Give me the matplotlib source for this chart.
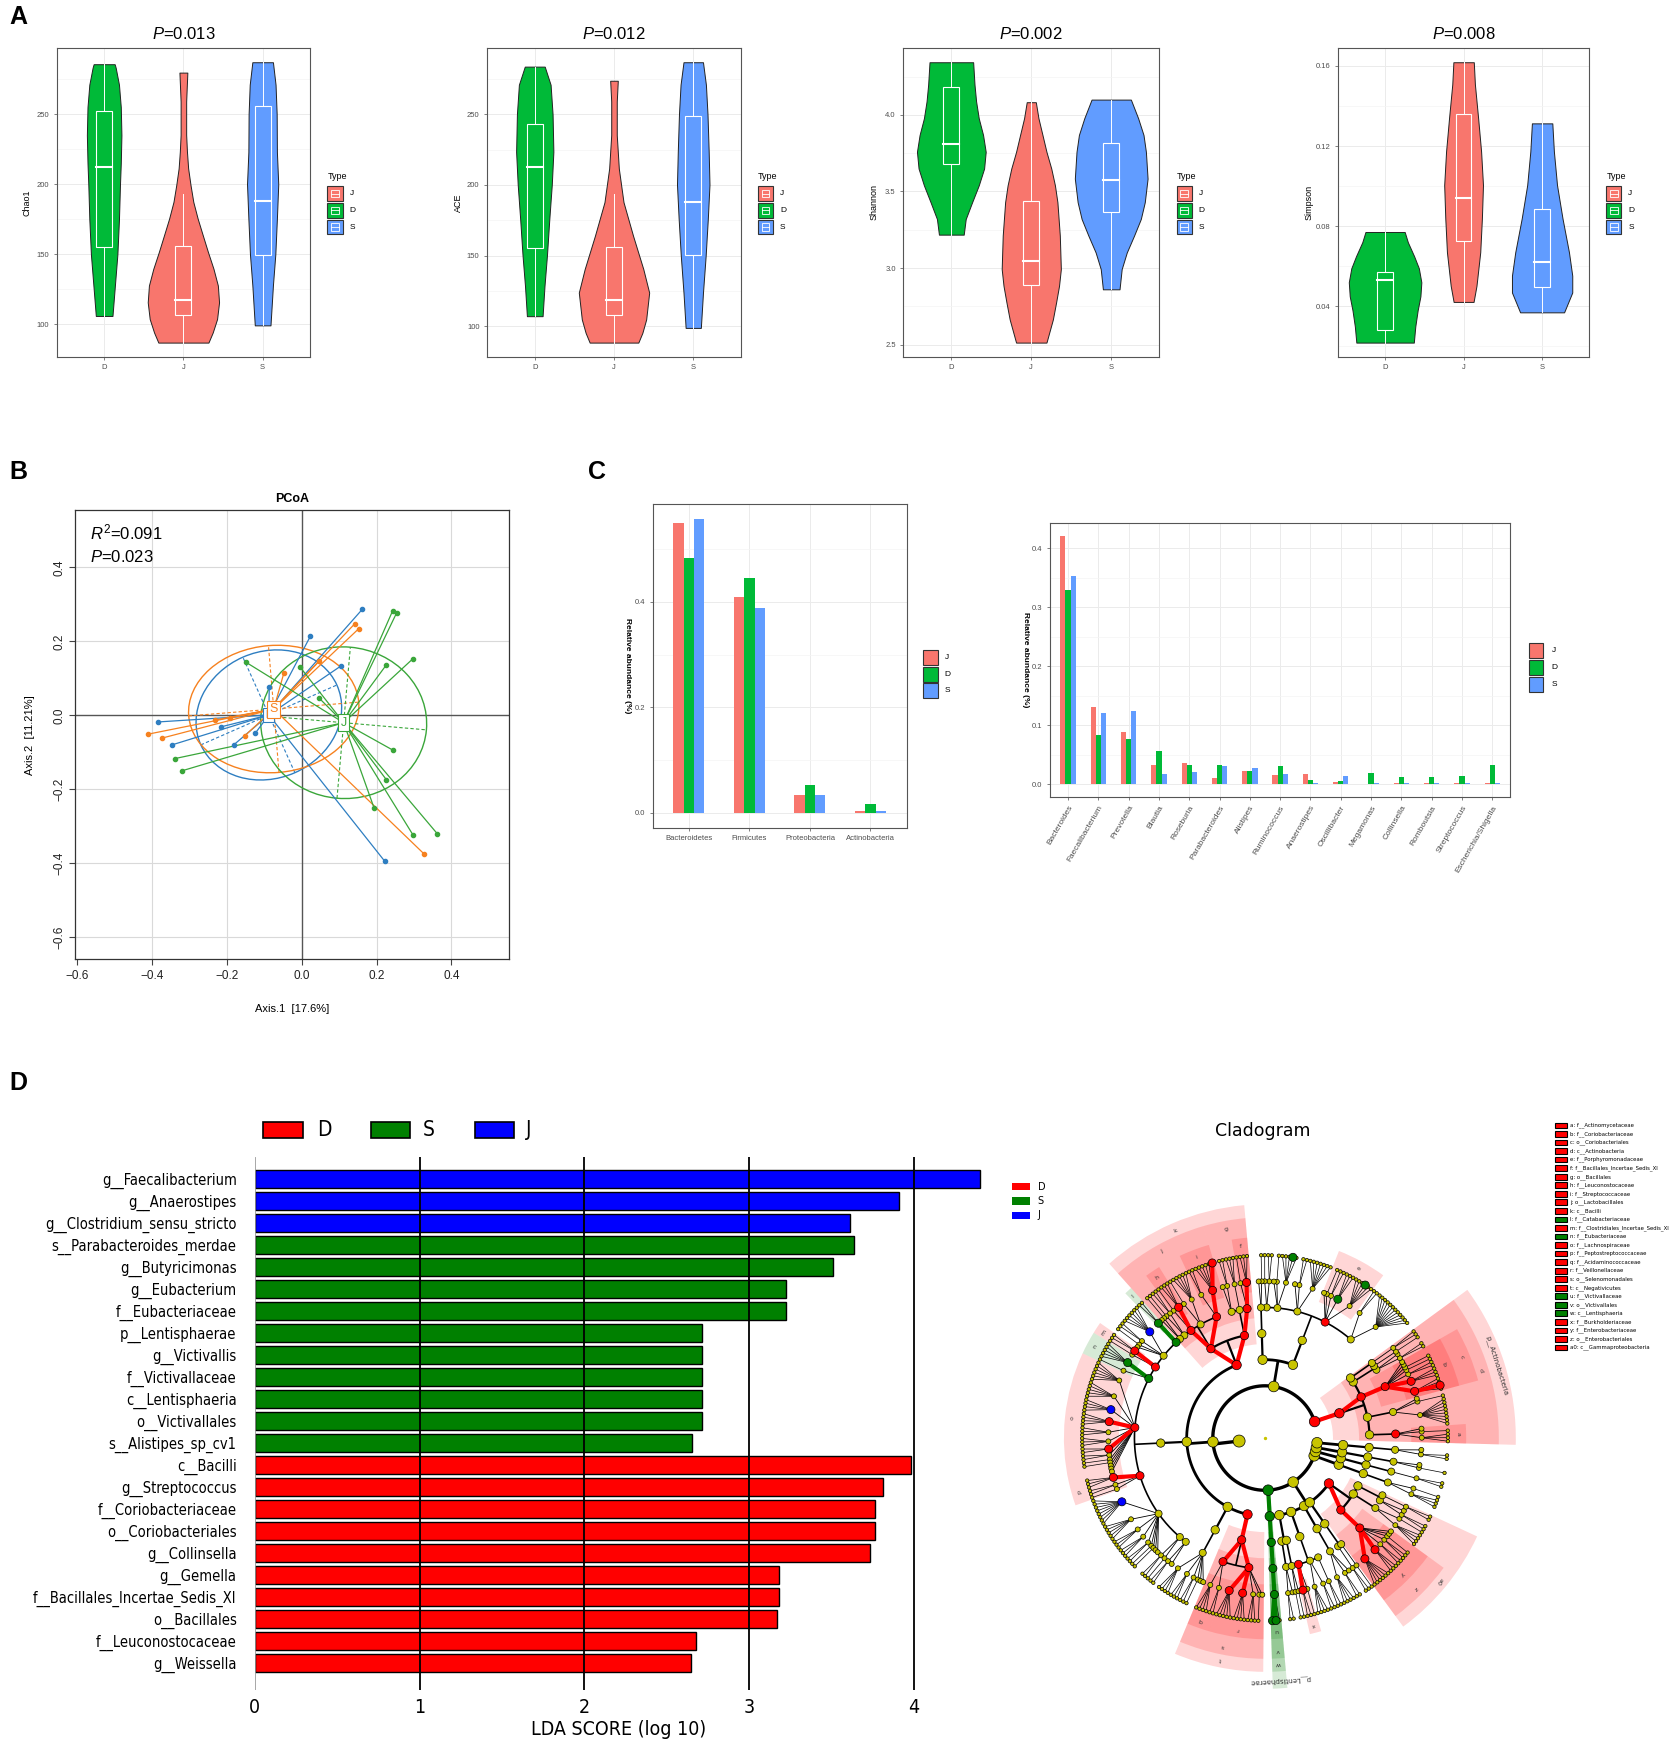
import numpy as np
import matplotlib
matplotlib.use('Agg')
import matplotlib.pyplot as plt
from matplotlib.patches import Rectangle, Ellipse, Wedge

plt.rcParams['font.family'] = ['Liberation Sans', 'DejaVu Sans']
plt.rcParams['mathtext.fontset'] = 'custom'
plt.rcParams['mathtext.rm'] = 'Liberation Sans'
plt.rcParams['mathtext.it'] = 'Liberation Sans:italic'

# ---------------- data ----------------
groups = ['D', 'J', 'S']

# violin outlines: (value, half width)
chao1_D = [(285.6, 0.133), (283, 0.146), (271, 0.187), (255, 0.21), (235, 0.218), (215, 0.21),
           (200, 0.2), (175, 0.187), (150, 0.167), (128, 0.136), (106, 0.105)]
chao1_J = [(279.6, 0.05), (259, 0.035), (235.2, 0.035), (223.2, 0.045), (211.3, 0.06), (199.4, 0.09),
           (187.4, 0.125), (175.5, 0.18), (163.5, 0.245), (151.6, 0.31), (139.6, 0.38), (127.7, 0.435),
           (115.7, 0.45), (103.8, 0.425), (94.2, 0.37), (87, 0.316)]
chao1_S = [(287, 0.13), (271, 0.163), (250, 0.177), (223, 0.18), (200, 0.197), (175.5, 0.18),
           (150, 0.16), (128, 0.13), (99.3, 0.099)]
ace_D = [(283.7, 0.126), (270.9, 0.2), (250, 0.225), (223.4, 0.235), (200.2, 0.215), (176, 0.184),
         (150.1, 0.154), (128.5, 0.123), (107.1, 0.099)]
ace_J = [(273.7, 0.048), (259, 0.035), (235.3, 0.035), (211.6, 0.061), (187.8, 0.12), (164.1, 0.24),
         (140.4, 0.37), (123.8, 0.444), (104.8, 0.406), (95.3, 0.358), (88.4, 0.307)]
ace_S = [(286.8, 0.123), (270.9, 0.16), (250, 0.18), (223.4, 0.195), (200.2, 0.205), (176, 0.184),
         (150, 0.157), (123.8, 0.123), (98.8, 0.096)]
shannon_D = [(4.344, 0.273), (4.197, 0.29), (4.088, 0.31), (3.978, 0.343), (3.869, 0.397), (3.759, 0.43),
             (3.65, 0.41), (3.54, 0.343), (3.43, 0.26), (3.32, 0.18), (3.218, 0.155)]
shannon_J = [(4.083, 0.057), (3.978, 0.09), (3.869, 0.14), (3.759, 0.19), (3.65, 0.25), (3.54, 0.296),
             (3.43, 0.327), (3.212, 0.357), (2.993, 0.37), (2.883, 0.347), (2.774, 0.31), (2.664, 0.27),
             (2.513, 0.19)]
shannon_S = [(4.1, 0.246), (3.978, 0.337), (3.869, 0.404), (3.759, 0.434), (3.584, 0.455), (3.43, 0.42),
             (3.32, 0.37), (3.212, 0.286), (3.102, 0.195), (2.993, 0.131), (2.861, 0.104)]
simpson_D = [(0.0771, 0.25), (0.072, 0.29), (0.065, 0.37), (0.059, 0.43), (0.052, 0.462), (0.045, 0.45),
             (0.038, 0.415), (0.030, 0.385), (0.0219, 0.366)]
simpson_J = [(0.1618, 0.13), (0.1508, 0.144), (0.134, 0.185), (0.1173, 0.223), (0.1005, 0.247),
             (0.0838, 0.233), (0.067, 0.212), (0.0502, 0.164), (0.0422, 0.127)]
simpson_S = [(0.1313, 0.13), (0.1173, 0.15), (0.1005, 0.19), (0.0838, 0.26), (0.067, 0.342),
             (0.0553, 0.384), (0.0469, 0.384), (0.037, 0.28)]

# box stats: (lower whisker, q1, median, q3, upper whisker)
chao1_box = [(106, 155, 212, 252.4, 285.6), (87, 107, 117.7, 156, 193), (99.3, 149.6, 188, 256, 287)]
ace_box = [(107.1, 155.3, 213, 243.4, 283.7), (88.4, 107.6, 118.3, 155.8, 193.5), (98.8, 150.3, 187.8, 248.8, 286.8)]
shannon_box = [(3.218, 3.682, 3.807, 4.182, 4.344), (2.513, 2.89, 3.048, 3.435, 4.083), (2.861, 3.363, 3.575, 3.818, 4.1)]
simpson_box = [(0.0219, 0.028, 0.0533, 0.0573, 0.0771), (0.0422, 0.0725, 0.0941, 0.136, 0.1618),
               (0.037, 0.0497, 0.0623, 0.0884, 0.1313)]

alpha_titles = ['0.013', '0.012', '0.002', '0.008']
alpha_names = ['Chao1', 'ACE', 'Shannon', 'Simpson']
alpha_ticks = [[100, 150, 200, 250], [100, 150, 200, 250], [2.5, 3.0, 3.5, 4.0], [0.04, 0.08, 0.12, 0.16]]
alpha_fmt = ['{:.0f}', '{:.0f}', '{:.1f}', '{:.2f}']

# PCoA points
pc_D = [(0.162, 0.287), (0.023, 0.214), (0.104, 0.133), (-0.087, 0.077), (-0.385, -0.018), (-0.215, -0.031),
        (-0.347, -0.080), (-0.124, -0.048), (-0.182, -0.080), (0.222, -0.395)]
pc_S = [(0.142, 0.248), (0.152, 0.234), (-0.048, 0.114), (0.047, 0.148), (-0.233, -0.013), (-0.193, -0.007),
        (-0.411, -0.051), (-0.375, -0.062), (-0.153, -0.056), (0.328, -0.376)]
pc_J = [(0.243, 0.283), (0.254, 0.278), (0.296, 0.152), (0.225, 0.135), (-0.005, 0.131), (-0.150, 0.144),
        (0.047, 0.046), (0.245, -0.095), (0.226, -0.174), (0.193, -0.250), (0.297, -0.323), (0.362, -0.320),
        (-0.339, -0.117), (-0.320, -0.150)]
pc_centroid = {'D': (-0.088, 0.001), 'S': (-0.075, 0.017), 'J': (0.112, -0.02)}
# ellipse semi axes and tilt (degrees)
pc_ellipse = {'D': (0.199, 0.171, 24.0), 'S': (0.228, 0.172, 4.7), 'J': (0.222, 0.205, -5.0)}

# phylum level abundance
phyla = ['Bacteroidetes', 'Firmicutes', 'Proteobacteria', 'Actinobacteria']
phyla_J = [0.550, 0.410, 0.0335, 0.003]
phyla_D = [0.4835, 0.445, 0.053, 0.0165]
phyla_S = [0.557, 0.389, 0.035, 0.003]

genera = ['Bacteroides', 'Faecalibacterium', 'Prevotella', 'Blautia', 'Roseburia', 'Parabacteroides',
          'Alistipes', 'Ruminococcus', 'Anaerostipes', 'Oscillibacter', 'Megamonas', 'Collinsella',
          'Romboutsia', 'Streptococcus', 'Escherichia/Shigella']
genera_J = [0.421, 0.131, 0.088, 0.032, 0.0365, 0.011, 0.022, 0.015, 0.017, 0.004, 0.0005, 0.002, 0.002, 0.002, 0.002]
genera_D = [0.329, 0.083, 0.076, 0.056, 0.032, 0.033, 0.022, 0.031, 0.0075, 0.0045, 0.019, 0.0125, 0.0125, 0.014, 0.032]
genera_S = [0.353, 0.121, 0.124, 0.018, 0.020, 0.031, 0.027, 0.017, 0.002, 0.013, 0.002, 0.002, 0.002, 0.002, 0.002]

# LEfSe LDA scores
lda_taxa = ['g__Faecalibacterium', 'g__Anaerostipes', 'g__Clostridium_sensu_stricto', 's__Parabacteroides_merdae',
            'g__Butyricimonas', 'g__Eubacterium', 'f__Eubacteriaceae', 'p__Lentisphaerae', 'g__Victivallis',
            'f__Victivallaceae', 'c__Lentisphaeria', 'o__Victivallales', 's__Alistipes_sp_cv1', 'c__Bacilli',
            'g__Streptococcus', 'f__Coriobacteriaceae', 'o__Coriobacteriales', 'g__Collinsella', 'g__Gemella',
            'f__Bacillales_Incertae_Sedis_XI', 'o__Bacillales', 'f__Leuconostocaceae', 'g__Weissella']
lda_group = ['J'] * 3 + ['S'] * 10 + ['D'] * 10
lda_score = [4.40, 3.906, 3.609, 3.636, 3.511, 3.225, 3.225, 2.716, 2.716, 2.716, 2.716, 2.716, 2.65,
             3.984, 3.812, 3.761, 3.761, 3.73, 3.18, 3.18, 3.166, 2.677, 2.646]

# cladogram tree: phylum -> class -> order -> family -> genera (species count per genus)
clado_tree = [
    [[[[3, 1, 0]], [[8, 1, 0]], [[4, 3, 2, 1, 1, 0, 0]], [[2, 0], [1]], [[2]]]],            # Actinobacteria
    [[[[12, 2], [6, 3, 2, 1, 0], [7, 2, 0], [5, 1, 0], [2, 1]]], [[[1, 0]]]],              # Bacteroidetes
    [[[[3, 1], [3], [2, 0]], [[6, 2], [5, 1], [3, 1], [2, 1], [1, 0]]],                     # Firmicutes
     [[[2], [6, 2, 1, 0], [2, 1], [5, 1], [6, 5, 4, 4, 3, 3, 2, 2, 1, 1, 0, 0, 0], [3, 2, 1],
       [8, 5, 3, 3, 2, 1, 1, 0, 0], [2, 1], [2, 0]]],
     [[[4, 3, 2, 1, 0, 0]]],
     [[[4, 2], [5, 4, 3, 1, 0]]]],
    [[[[3]]]],                                                                              # Lentisphaerae
    [[[[2, 0]], [[1, 1]]], [[[2, 1], [4, 2], [2]]], [[[4, 2, 0]]], [[[2], [1]]],            # Proteobacteria
     [[[6, 3, 2, 2, 1, 0, 0]], [[4, 1]], [[2, 0], [2]]]],
    [[[[3, 1]]]], [[[[2]]]], [[[[1, 0]]]], [[[[2, 0]]]],
]
# shaded biomarker clades: path in tree, enriched group, letter
clade_paths = [(0, 0, 0, 0), (0, 0, 2, 0), (0, 0, 2), (0, 0), (1, 0, 0, 1), (2, 0, 0, 0), (2, 0, 0), (2, 0, 1, 2),
               (2, 0, 1, 0), (2, 0, 1), (2, 0), (2, 1, 0, 0), (2, 1, 0, 2), (2, 1, 0, 3), (2, 1, 0, 4), (2, 1, 0, 5),
               (2, 3, 0, 0), (2, 3, 0, 1), (2, 3, 0), (2, 3), (3, 0, 0, 0), (3, 0, 0), (3, 0), (4, 1, 0, 0),
               (4, 4, 0, 0), (4, 4, 0), (4, 4), (0,), (3,)]
clade_group = ['D'] * 11 + ['S', 'D', 'S', 'D', 'D', 'D', 'D', 'D', 'D', 'S', 'S', 'S', 'D', 'D', 'D', 'D', 'D', 'S']
clade_label = ['a', 'b', 'c', 'd', 'e', 'f', 'g', 'h', 'i', 'j', 'k', 'l', 'm', 'n', 'o', 'p', 'q', 'r', 's', 't',
               'u', 'v', 'w', 'x', 'y', 'z', 'a0', 'p__Actinobacteria', 'p__Lentisphaerae']
clade_name = ['f__Actinomycetaceae', 'f__Coriobacteriaceae', 'o__Coriobacteriales', 'c__Actinobacteria',
              'f__Porphyromonadaceae', 'f__Bacillales_Incertae_Sedis_XI', 'o__Bacillales', 'f__Leuconostocaceae',
              'f__Streptococcaceae', 'o__Lactobacillales', 'c__Bacilli', 'f__Catabacteriaceae',
              'f__Clostridiales_Incertae_Sedis_XI', 'f__Eubacteriaceae', 'f__Lachnospiraceae',
              'f__Peptostreptococcaceae', 'f__Acidaminococcaceae', 'f__Veillonellaceae', 'o__Selenomonadales',
              'c__Negativicutes', 'f__Victivallaceae', 'o__Victivallales', 'c__Lentisphaeria', 'f__Burkholderiaceae',
              'f__Enterobacteriaceae', 'o__Enterobacteriales', 'c__Gammaproteobacteria']
# genus / species biomarkers shown as coloured nodes only
marker_paths = [(0, 0, 2, 0, 0), (2, 0, 1, 0, 0), (2, 0, 0, 0, 0), (2, 0, 1, 2, 0), (2, 1, 0, 4, 3), (2, 3, 0, 1, 0),
                (4, 4, 0, 0, 0), (2, 1, 0, 5, 0), (4, 1, 0, 0, 0), (2, 0, 1, 0, 0, 0), (0, 0, 2, 0, 0, 1),
                (0, 0, 2, 0, 1), (2, 1, 0, 2, 0), (2, 3, 0, 1, 1), (4, 4, 0, 0, 1), (2, 1, 0, 4, 6),
                (1, 0, 0, 1, 1), (2, 1, 0, 3, 0), (3, 0, 0, 0, 0), (3, 0, 0, 0, 0, 0), (3, 0, 0, 0, 0, 1),
                (1, 0, 0, 1, 0, 2), (1, 0, 0, 3, 0, 1), (2, 1, 0, 0, 0),
                (2, 1, 0, 6, 0), (2, 1, 0, 4, 2), (2, 1, 0, 1, 0)]
marker_group = ['D'] * 16 + ['S'] * 8 + ['J'] * 3

# ---------------- styling ----------------
GG = {'D': '#00BA38', 'J': '#F8766D', 'S': '#619CFF'}
PC = {'D': '#2e7ec1', 'S': '#f6811f', 'J': '#3aa63a'}
LF = {'D': '#ff0000', 'S': '#008000', 'J': '#0000ff'}
W, H = 1512.0, 1568.0


def rect(x0, y0, x1, y1):
    return [x0 / W, 1 - y1 / H, (x1 - x0) / W, (y1 - y0) / H]


fig = plt.figure(figsize=(16.78, 17.42), dpi=100)

for lab, (x, y) in zip('ABCD', [(8, 15), (8, 425), (530, 425), (8, 975)]):
    fig.text(x / W, 1 - y / H, lab, fontsize=18, fontweight='bold', va='center', ha='left')


def gg_axes(ax):
    ax.set_facecolor('white')
    for s in ax.spines.values():
        s.set_color('#555555')
        s.set_linewidth(0.8)
    ax.tick_params(labelsize=5.5, colors='#4D4D4D', length=2, width=0.5)
    ax.set_axisbelow(True)


def key_glyph(ax, x, y, color, w=0.06, h=0.048, boxed=True):
    ax.add_patch(Rectangle((x, y - h / 2), w, h, transform=ax.transAxes, fc=color, ec='#333333',
                           lw=0.8, clip_on=False))
    if boxed:
        ax.add_patch(Rectangle((x + w * 0.25, y - h * 0.25), w * 0.5, h * 0.5, transform=ax.transAxes,
                               fc='none', ec='white', lw=0.6, clip_on=False))
        ax.plot([x + w * 0.25, x + w * 0.75], [y, y], transform=ax.transAxes, color='white', lw=0.6,
                clip_on=False)


# ---------------- A: violins ----------------
alpha_boxes = [rect(51, 43.4, 279.5, 321), rect(439, 43.4, 667.5, 321), rect(814, 43.4, 1044.5, 321),
               rect(1205.6, 43.4, 1432, 321)]
alpha_profiles = [[chao1_D, chao1_J, chao1_S], [ace_D, ace_J, ace_S],
                  [shannon_D, shannon_J, shannon_S], [simpson_D, simpson_J, simpson_S]]
alpha_stats = [chao1_box, ace_box, shannon_box, simpson_box]

for box, ptxt, name, profs, stats, ticks, fmt in zip(alpha_boxes, alpha_titles, alpha_names, alpha_profiles,
                                                      alpha_stats, alpha_ticks, alpha_fmt):
    ax = fig.add_axes(box)
    gg_axes(ax)
    vals = [v for prof in profs for v, w in prof]
    lo, hi = min(vals), max(vals)
    pad = 0.05 * (hi - lo)
    ax.set_xlim(0.4, 3.6)
    ax.set_ylim(lo - pad, hi + pad)
    step = ticks[1] - ticks[0]
    minors = [t for t in np.arange(ticks[0] - step / 2, ticks[-1] + step, step) if lo - pad < t < hi + pad]
    ax.set_yticks(ticks)
    ax.set_yticklabels([fmt.format(t) for t in ticks])
    ax.set_yticks(minors, minor=True)
    ax.tick_params(which='minor', length=0)
    ax.set_xticks([1, 2, 3])
    ax.set_xticklabels(groups)
    ax.grid(which='major', color='#EBEBEB', lw=0.7)
    ax.grid(which='minor', axis='y', color='#F4F4F4', lw=0.5)
    for i, (g, prof, st) in enumerate(zip(groups, profs, stats)):
        xc = i + 1
        ys = np.array([p[0] for p in prof])
        ws = np.array([p[1] for p in prof])
        ax.fill_betweenx(ys, xc - ws, xc + ws, facecolor=GG[g], edgecolor='#222222', lw=0.7, zorder=2)
        wl, q1, med, q3, wh = st
        ax.add_patch(Rectangle((xc - 0.1, q1), 0.2, q3 - q1, fc='none', ec='white', lw=0.8, zorder=3))
        ax.plot([xc - 0.1, xc + 0.1], [med, med], color='white', lw=1.5, zorder=3)
        ax.plot([xc, xc], [q3, wh], color='white', lw=0.7, zorder=3)
        ax.plot([xc, xc], [wl, q1], color='white', lw=0.7, zorder=3)
    ax.text(0.5, 1.045, r'$P$=' + ptxt, transform=ax.transAxes, ha='center', va='center', fontsize=12)
    ax.text(-0.115, 0.5, name, transform=ax.transAxes, rotation=90, ha='center', va='center', fontsize=6.5)
    ax.text(1.068, 0.584, 'Type', transform=ax.transAxes, ha='left', va='center', fontsize=6.5)
    for g, yk in zip(['J', 'D', 'S'], [0.528, 0.474, 0.42]):
        key_glyph(ax, 1.068, yk, GG[g])
        ax.text(1.155, yk, g, transform=ax.transAxes, ha='left', va='center', fontsize=6)

# ---------------- B: PCoA ----------------
axb = fig.add_axes(rect(68, 459.5, 459, 863.5))
axb.set_xlim(-0.605, 0.555)
axb.set_ylim(-0.66, 0.554)
for v in [-0.4, -0.2, 0.2, 0.4]:
    axb.axvline(v, color='#d9d9d9', lw=0.8, zorder=0)
for v in [-0.6, -0.4, -0.2, 0.2, 0.4]:
    axb.axhline(v, color='#d9d9d9', lw=0.8, zorder=0)
axb.axhline(0, color='#555555', lw=1.0, zorder=1)
axb.axvline(0, color='#555555', lw=1.0, zorder=1)
pc_pts = {'D': pc_D, 'S': pc_S, 'J': pc_J}
for g in ['D', 'S', 'J']:
    cx, cy = pc_centroid[g]
    a, b, tilt = pc_ellipse[g]
    col = PC[g]
    axb.add_patch(Ellipse((cx, cy), 2 * a, 2 * b, angle=tilt, fill=False, ec=col, lw=1.0, zorder=2))
    for half, phi in [(a, tilt), (b, tilt + 90)]:
        dx, dy = half * np.cos(np.deg2rad(phi)), half * np.sin(np.deg2rad(phi))
        axb.plot([cx - dx, cx + dx], [cy - dy, cy + dy], color=col, lw=0.8, ls=(0, (3, 2)), zorder=2)
    for px, py in pc_pts[g]:
        axb.plot([cx, px], [cy, py], color=col, lw=0.9, zorder=3)
    axb.scatter([p[0] for p in pc_pts[g]], [p[1] for p in pc_pts[g]], s=9, color=col, zorder=4)
for g, fs in [('D', 7), ('S', 9), ('J', 9)]:
    cx, cy = pc_centroid[g]
    axb.text(cx, cy, g, color=PC[g], ha='center', va='center', fontsize=fs, zorder=6,
             bbox=dict(boxstyle='square,pad=0.2', fc='white', ec=PC[g], lw=0.8))
axb.set_xticks([-0.6, -0.4, -0.2, 0.0, 0.2, 0.4])
axb.set_yticks([-0.6, -0.4, -0.2, 0.0, 0.2, 0.4])
axb.set_xticklabels(['\u22120.6', '\u22120.4', '\u22120.2', '0.0', '0.2', '0.4'])
axb.set_yticklabels(['\u22120.6', '\u22120.4', '\u22120.2', '0.0', '0.2', '0.4'], rotation=90, va='center')
axb.tick_params(labelsize=8.5, direction='out', length=4, color='#444444', labelcolor='#222222')
for s in axb.spines.values():
    s.set_color('#333333')
    s.set_linewidth(0.9)
axb.set_title('PCoA', fontsize=9, fontweight='bold', pad=6)
axb.text(0.5, -0.11, 'Axis.1  [17.6%]', transform=axb.transAxes, ha='center', va='center', fontsize=8)
axb.text(-0.105, 0.5, 'Axis.2  [11.21%]', transform=axb.transAxes, rotation=90, ha='center', va='center',
         fontsize=8)
axb.text(0.033, 0.952, r'$R^2$=0.091', transform=axb.transAxes, ha='left', va='center', fontsize=12)
axb.text(0.033, 0.897, r'$P$=0.023', transform=axb.transAxes, ha='left', va='center', fontsize=12)


# ---------------- C: relative abundance ----------------
def abundance_panel(box, cats, jv, dv, sv, ticks, rot, key_x, key_ys, txt_x, lab_x):
    ax = fig.add_axes(box)
    gg_axes(ax)
    x = np.arange(len(cats))
    bw = 0.17
    for off, vals, g in [(-bw, jv, 'J'), (0, dv, 'D'), (bw, sv, 'S')]:
        ax.bar(x + off, vals, width=bw, color=GG[g], zorder=2)
    top = max(max(jv), max(dv), max(sv))
    ax.set_ylim(-0.05 * top, top * 1.05)
    ax.set_xlim(-0.6, len(cats) - 0.4)
    ax.set_xticks(x)
    if rot:
        ax.set_xticklabels(cats, rotation=60, ha='right', rotation_mode='anchor', fontsize=6)
    else:
        ax.set_xticklabels(cats)
    ax.set_yticks(ticks)
    ax.set_yticklabels(['{:.1f}'.format(t) for t in ticks])
    step = ticks[1] - ticks[0]
    ax.set_yticks([t + step / 2 for t in ticks if t + step / 2 < top * 1.05], minor=True)
    ax.tick_params(which='minor', length=0)
    ax.grid(which='major', color='#EBEBEB', lw=0.7)
    ax.grid(which='minor', axis='y', color='#F4F4F4', lw=0.5)
    ax.text(lab_x, 0.5, 'Relative abundance (%)', transform=ax.transAxes, rotation=-90, ha='center',
            va='center', fontsize=6, fontweight='bold')
    for g, yk in zip(['J', 'D', 'S'], key_ys):
        key_glyph(ax, key_x, yk, GG[g], w=13 / (box[2] * W), h=13 / (box[3] * H), boxed=False)
        ax.text(txt_x, yk, g, transform=ax.transAxes, ha='left', va='center', fontsize=6)
    return ax


abundance_panel(rect(588, 454, 817, 745), phyla, phyla_J, phyla_D, phyla_S, [0.0, 0.2, 0.4], False,
                1.066, [0.526, 0.474, 0.424], 1.15, -0.1)
abundance_panel(rect(946, 471, 1361, 717), genera, genera_J, genera_D, genera_S, [0.0, 0.1, 0.2, 0.3, 0.4], True,
                1.04, [0.534, 0.472, 0.41], 1.09, -0.052)

# ---------------- D: LDA bars ----------------
axd = fig.add_axes(rect(229.5, 1041, 884.5, 1521))
ypos = np.arange(len(lda_taxa))
axd.barh(ypos, lda_score, height=0.83, color=[LF[g] for g in lda_group], edgecolor='black', lw=1.0, zorder=2)
axd.set_xlim(0, 4.41)
axd.set_ylim(len(lda_taxa) - 1 + 1.21, -1.02)
for v in [1, 2, 3, 4]:
    axd.axvline(v, color='black', lw=1.3, zorder=3)
axd.axvline(0, color='#999999', lw=0.6, zorder=3)
for s in axd.spines.values():
    s.set_visible(False)
axd.set_yticks(ypos)
axd.set_yticklabels(lda_taxa, fontsize=10.5, fontstretch='condensed', family='DejaVu Sans')
axd.set_xticks([0, 1, 2, 3, 4])
axd.set_xticklabels(['0', '1', '2', '3', '4'], fontsize=14, fontstretch='condensed', family='DejaVu Sans')
axd.tick_params(axis='y', length=0, pad=13)
axd.tick_params(axis='x', length=0, pad=6)
axd.set_xlabel('LDA SCORE (log 10)', fontsize=14, fontstretch='condensed', family='DejaVu Sans', labelpad=2)
for g, (x0, x1, xt) in zip(['D', 'S', 'J'], [(237, 273, 286), (334, 369, 381), (428, 463, 474)]):
    fig.add_artist(Rectangle((x0 / W, 1 - 1024 / H), (x1 - x0) / W, 14 / H, transform=fig.transFigure,
                             fc=LF[g], ec='black', lw=1.2))
    fig.text(xt / W, 1 - 1017 / H, g, fontsize=15, va='center', ha='left', family='DejaVu Sans',
             fontstretch='condensed')

# ---------------- D: cladogram ----------------
nodes = {}


def place(item, path, level, pos):
    if isinstance(item, int):
        item = [None] * item
    if item is None or len(item) == 0:
        nodes[path] = {'level': level, 't': pos[0], 'lo': pos[0], 'hi': pos[0], 'kids': []}
        pos[0] += 1
        return
    kids = []
    for i, ch in enumerate(item):
        place(ch, path + (i,), level + 1, pos)
        kids.append(path + (i,))
    first, last = nodes[kids[0]], nodes[kids[-1]]
    nodes[path] = {'level': level, 't': (first['t'] + last['t']) / 2, 'lo': first['lo'], 'hi': last['hi'],
                   'kids': kids}


pos = [0.0]
for i, ph in enumerate(clado_tree):
    place(ph, (i,), 2, pos)
    pos[0] += 2.0
total_units = pos[0]
phy_paths = [(i,) for i in range(len(clado_tree))]
nodes[()] = {'level': 1, 't': (nodes[phy_paths[0]]['t'] + nodes[phy_paths[-1]]['t']) / 2,
             'lo': 0, 'hi': total_units, 'kids': phy_paths}
START = -1.0


def ang(t):
    return START + t * 360.0 / total_units


def xy(r, a):
    return r * np.cos(np.deg2rad(a)), r * np.sin(np.deg2rad(a))


cx_d, cy_d = 1139.9, 1294.4
half = 249.5
axc = fig.add_axes(rect(cx_d - half, cy_d - half, cx_d + half, cy_d + half))
axc.set_xlim(-10.6, 10.6)
axc.set_ylim(-10.6, 10.6)
axc.set_aspect('equal')
axc.axis('off')

node_col = {}
for p, g in zip(clade_paths, clade_group):
    node_col[p] = LF[g]
for p, g in zip(marker_paths, marker_group):
    node_col[p] = LF[g]

outer_r = {2: 9.6, 3: 8.95, 4: 8.45, 5: 7.7}
for p, g, lab in sorted(zip(clade_paths, clade_group, clade_label), key=lambda z: len(z[0])):
    nd = nodes[p]
    L = nd['level']
    a1, a2 = ang(nd['lo'] - 0.5), ang(nd['hi'] + 0.5)
    ro = outer_r[L]
    ri = L + 0.6
    axc.add_patch(Wedge((0, 0), ro, a1, a2, width=ro - ri, fc=LF[g], alpha=0.16, ec='none', zorder=0))
    am = (a1 + a2) / 2
    tx, ty = xy(ro - 0.3, am)
    axc.text(tx, ty, lab, fontsize=4.5 if len(lab) < 3 else 5, rotation=am - 90, ha='center', va='center',
             color='#333333', family='DejaVu Sans', zorder=1)

lw_level = {1: 2.4, 2: 2.0, 3: 1.6, 4: 1.2, 5: 0.6, 6: 0.5}
for p, nd in nodes.items():
    if not nd['kids']:
        continue
    L = nd['level']
    a0 = ang(nd['t'])
    if L <= 4:
        x0, y0 = xy(L, a0)
        x1, y1 = xy(L + 1, a0)
        axc.plot([x0, x1], [y0, y1], color='black', lw=lw_level[L], zorder=2, solid_capstyle='butt')
        aa = np.linspace(ang(nodes[nd['kids'][0]]['t']), ang(nodes[nd['kids'][-1]]['t']), 200)
        axc.plot((L + 1) * np.cos(np.deg2rad(aa)), (L + 1) * np.sin(np.deg2rad(aa)), color='black',
                 lw=lw_level[L], zorder=2)
    else:
        x0, y0 = xy(L, a0)
        for k in nd['kids']:
            x1, y1 = xy(L + 1, ang(nodes[k]['t']))
            axc.plot([x0, x1], [y0, y1], color='black', lw=lw_level[L], zorder=2)

# coloured branches between biomarker nodes
for p, c in node_col.items():
    if len(p) > 0 and p[:-1] in node_col and node_col[p[:-1]] == c:
        pa, ch = nodes[p[:-1]], nodes[p]
        x0, y0 = xy(pa['level'], ang(pa['t']))
        x1, y1 = xy(ch['level'], ang(ch['t']))
        axc.plot([x0, x1], [y0, y1], color=c, lw=3.0, zorder=3, solid_capstyle='butt')

size_level = {1: 75, 2: 58, 3: 46, 4: 36, 5: 26, 6: 13, 7: 6}
xs, ys, ss, cs = [], [], [], []
for p, nd in nodes.items():
    x, y = xy(nd['level'], ang(nd['t']))
    xs.append(x)
    ys.append(y)
    if p in node_col:
        ss.append(max(size_level[nd['level']], 34))
        cs.append(node_col[p])
    else:
        ss.append(size_level[nd['level']])
        cs.append('#c8c400')
order = np.argsort([c != '#c8c400' for c in cs], kind='stable')
axc.scatter(np.array(xs)[order], np.array(ys)[order], s=np.array(ss)[order], c=np.array(cs)[order],
            edgecolors='black', linewidths=0.5, zorder=4)
axc.scatter([0], [0], s=2, c='#c8c400', zorder=4)

fig.text(1138 / W, 1 - 1018 / H, 'Cladogram', fontsize=12.5, ha='center', va='center', family='DejaVu Sans')
for g, yy in zip(['D', 'S', 'J'], [1068, 1081, 1094]):
    fig.add_artist(Rectangle((912 / W, 1 - (yy + 3.5) / H), 16 / W, 7 / H, transform=fig.transFigure,
                             fc=LF[g], ec='none'))
    fig.text(935 / W, 1 - yy / H, g, fontsize=7, va='center', ha='left', family='DejaVu Sans')
for i, (lab, nm) in enumerate(zip(clade_label[:len(clade_name)], clade_name)):
    yy = 1013 + i * 7.69
    fig.add_artist(Rectangle((1401 / W, 1 - (yy + 2.6) / H), 11 / W, 5.2 / H, transform=fig.transFigure,
                             fc=LF[clade_group[i]], ec='black', lw=0.8))
    fig.text(1415 / W, 1 - yy / H, lab + ': ' + nm, fontsize=3.9, va='center', ha='left', family='DejaVu Sans')

fig.savefig('out.png', dpi=100, facecolor='white')
